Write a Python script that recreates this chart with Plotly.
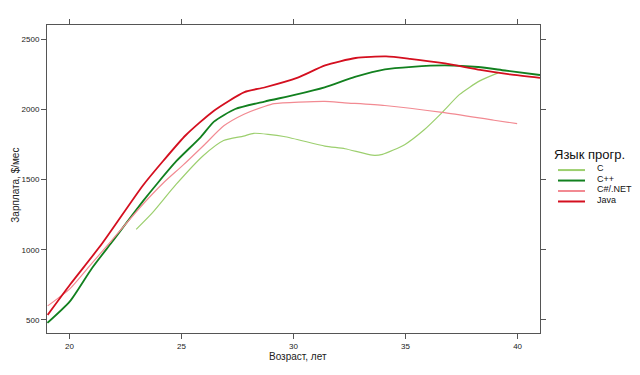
import plotly.graph_objects as go

# ---- data ----
c_age = [22.98, 23.71, 24.75, 25.98, 26.88, 27.77, 28.23, 29.57, 31.4, 32.3, 33.52, 33.97, 34.96, 35.82, 36.64, 37.4, 38.31, 39.13]
c_sal = [1145, 1264, 1463, 1671, 1778, 1809, 1829, 1806, 1738, 1719, 1673, 1679, 1748, 1852, 1978, 2104, 2202, 2259]

cpp_age = [19.02, 20.02, 20.99, 21.9, 23.31, 23.95, 24.78, 25.86, 26.45, 27.4, 28.71, 30.05, 31.39, 32.74, 34.08, 35.29, 36.76, 38.24, 39.44, 41.0]
cpp_sal = [479, 632, 865, 1055, 1351, 1477, 1632, 1802, 1912, 2002, 2055, 2102, 2156, 2230, 2284, 2302, 2312, 2301, 2276, 2244]

cs_age = [19.03, 20.04, 20.99, 21.9, 23.31, 24.2, 25.07, 25.99, 26.89, 27.79, 28.7, 29.15, 31.39, 32.28, 34.07, 36.64, 38.95, 39.98]
cs_sal = [600, 725, 901, 1069, 1329, 1477, 1602, 1742, 1882, 1965, 2020, 2040, 2056, 2046, 2027, 1978, 1922, 1898]

java_age = [19.03, 20.04, 21.45, 23.28, 24.2, 25.19, 26.45, 27.81, 28.7, 30.19, 31.41, 32.77, 34.13, 35.2, 36.76, 38.33, 39.66, 41.0]
java_sal = [536, 754, 1042, 1457, 1635, 1815, 1990, 2122, 2155, 2225, 2312, 2365, 2376, 2359, 2326, 2280, 2248, 2223]

series_names = ["C", "C++", "C#/.NET", "Java"]
x_ticks = [20, 25, 30, 35, 40]
y_ticks = [500, 1000, 1500, 2000, 2500]

colors = ["#9ccf6e", "#12801f", "#f28a92", "#d40f1f"]
widths = [1.2, 1.8, 1.2, 1.8]

fig = go.Figure()
for name, xs, ys, col, w in zip(series_names,
                                [c_age, cpp_age, cs_age, java_age],
                                [c_sal, cpp_sal, cs_sal, java_sal],
                                colors, widths):
    fig.add_trace(go.Scatter(x=xs, y=ys, mode="lines", name=name,
                             line=dict(color=col, width=w, shape="spline", smoothing=0.6),
                             showlegend=False))

axis_common = dict(showline=True, linecolor="#555", linewidth=1, mirror="ticks",
                   ticks="outside", ticklen=5, tickcolor="#555", showgrid=False,
                   zeroline=False, tickfont=dict(family="Liberation Sans", size=8, color="#222"))
fig.update_xaxes(range=[19, 41], tickvals=x_ticks, **axis_common)
fig.update_yaxes(range=[407, 2600], tickvals=y_ticks, **axis_common)

annotations = [
    dict(text="Возраст, лет", xref="paper", yref="paper", x=0.509, y=-0.101,
         showarrow=False, font=dict(family="Liberation Sans", size=10, color="#222")),
    dict(text="Зарплата, $/мес", xref="paper", yref="paper", x=-0.079, y=0.48,
         textangle=-90, showarrow=False, font=dict(family="Liberation Sans", size=10, color="#222")),
    dict(text="Язык прогр.", xref="paper", yref="paper", x=1.024, y=0.578,
         xanchor="left", showarrow=False, font=dict(family="Liberation Sans", size=13, color="#111")),
]
shapes = []
leg_y = [0.529, 0.495, 0.461, 0.427]
for name, col, yy in zip(series_names, colors, leg_y):
    shapes.append(dict(type="line", xref="paper", yref="paper", x0=1.0365, x1=1.0913,
                       y0=yy, y1=yy, line=dict(color=col, width=2)))
    annotations.append(dict(text=name, xref="paper", yref="paper", x=1.1116, y=yy + 0.006,
                            xanchor="left", showarrow=False,
                            font=dict(family="Liberation Sans", size=9, color="#111")))

fig.update_layout(width=640, height=375, margin=dict(l=47, r=100, t=25, b=42),
                  plot_bgcolor="white", paper_bgcolor="white",
                  annotations=annotations, shapes=shapes)

fig.write_html("out.html", config={"displayModeBar": False},
               post_script="document.body.style.margin='0';")
